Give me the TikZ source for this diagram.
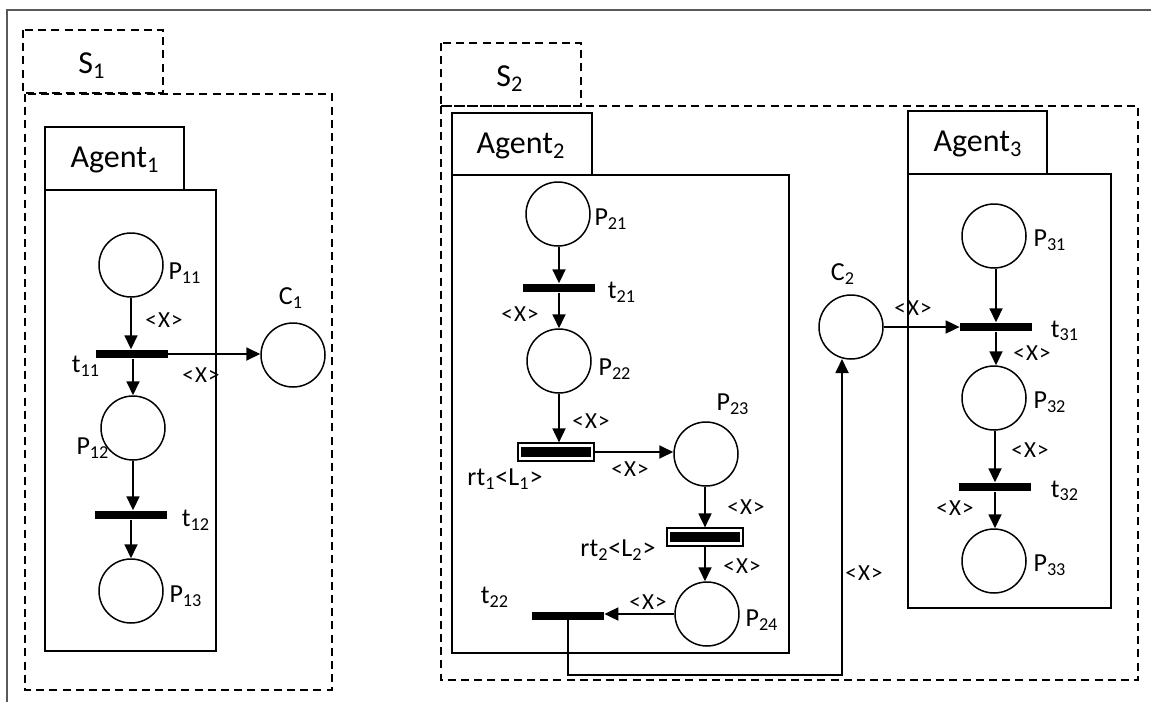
\documentclass[tikz,border=0pt]{standalone}
\usepackage{fontspec}
\setmainfont{Carlito}
\usetikzlibrary{arrows.meta}
\newcommand{\sbs}[1]{\textsubscript{#1}}
\newcommand{\xx}{<\kern0.6pt X\kern0.6pt>}
\tikzset{
  x=0.5pt, y=-0.5pt,
  place/.style={circle, draw, line width=0.75pt, minimum size=32pt, inner sep=0pt},
  bar/.style={rectangle, fill=black, minimum width=36pt, minimum height=4.3pt, inner sep=0pt},
  rtbar/.style={rectangle, draw, line width=0.6pt, minimum width=38pt, minimum height=9pt, inner sep=0pt,
    path picture={\fill[black] ([xshift=1.5pt,yshift=-2.2pt]path picture bounding box.north west) rectangle ([xshift=-1.5pt,yshift=2.2pt]path picture bounding box.south east);}},
  arr/.style={-{Triangle[length=7pt,width=6.5pt]}, line width=0.9pt},
  lbl/.style={font=\fontsize{13pt}{15pt}\selectfont, inner sep=0pt},
  xl/.style={font=\fontsize{11.5pt}{13pt}\selectfont, inner sep=0pt},
  big/.style={font=\fontsize{16pt}{18pt}\selectfont, inner sep=0pt},
  dbox/.style={draw, dash pattern=on 4pt off 2.6pt, line width=0.9pt},
  sbox/.style={draw, line width=0.9pt},
}
\begin{document}
\begin{tikzpicture}
\useasboundingbox (0,0) rectangle (1151,702);
\draw[gray!70!black, line width=0.6pt] (7,702) -- (7,10) -- (1151,10);

% ---- S1 ----
\draw[dbox] (23,30) rectangle (163,93);
\node[big] (S1) at (92,66) {S\sbs{1}};
\draw[dbox] (25,94) rectangle (332,690);
\draw[sbox] (45,127) rectangle (184,190);
\node[big] (A1) at (115,160) {Agent\sbs{1}};
\draw[sbox] (45,190) rectangle (216,651);

\node[place] (P11) at (131,265) {};
\node[bar] (t11) at (132,354) {};
\node[place] (P12) at (133,428) {};
\node[bar] (t12) at (131,515) {};
\node[place] (P13) at (131,591) {};
\node[place] (C1) at (293,355) {};

\node[lbl] (lP11) at (185,273) {P\sbs{11}};
\node[lbl] (lt11) at (86,366) {t\sbs{11}};
\node[lbl] (lC1) at (291,298) {C\sbs{1}};
\node[lbl] (lP12) at (93,448) {P\sbs{12}};
\node[lbl] (lt12) at (196,520) {t\sbs{12}};
\node[lbl] (lP13) at (186,596) {P\sbs{13}};

\draw[arr] (P11.south) -- (P11.south |- t11.north);
\draw[arr] (t11.south -| P12.north) -- (P12.north);
\draw[arr] (t11.east) -- (C1.west |- t11.east);
\draw[arr] (P12.south) -- (P12.south |- t12.north);
\draw[arr] (t12.south -| P13.north) -- (P13.north);
\node[xl] (x1) at (164,320) {\xx};
\node[xl] (x2) at (201,375) {\xx};

% ---- S2 ----
\draw[dbox] (441,43) rectangle (581,106);
\node[big] (S2) at (510,79) {S\sbs{2}};
\draw[dbox] (441,106) rectangle (1138,680);
\draw[sbox] (452,113) rectangle (592,175);
\node[big] (A2) at (521,146) {Agent\sbs{2}};
\draw[sbox] (452,175) rectangle (789,653);
\draw[sbox] (908,111) rectangle (1047,174);
\node[big] (A3) at (978,144) {Agent\sbs{3}};
\draw[sbox] (908,174) rectangle (1111,608);

\node[place] (P21) at (558,214) {};
\node[bar] (t21) at (559,288) {};
\node[place] (P22) at (559,361) {};
\node[rtbar] (rt1) at (556,452) {};
\node[place] (P23) at (706,454) {};
\node[rtbar] (rt2) at (705,537) {};
\node[place] (P24) at (707,614) {};
\node[bar] (t22) at (568,616) {};
\node[place] (C2) at (851,327) {};
\node[place] (P31) at (994,236) {};
\node[bar] (t31) at (996,327) {};
\node[place] (P32) at (994,398) {};
\node[bar] (t32) at (995,487) {};
\node[place] (P33) at (994,561) {};

\node[lbl] (lP21) at (611,219) {P\sbs{21}};
\node[lbl] (lt21) at (622,292) {t\sbs{21}};
\node[lbl] (lP22) at (615,369) {P\sbs{22}};
\node[lbl] (lP23) at (733,404) {P\sbs{23}};
\node[lbl] (lP24) at (762,620) {P\sbs{24}};
\node[lbl] (lt22) at (495,597) {t\sbs{22}};
\node[lbl] (lrt1) at (505,479) {rt\sbs{1}<L\sbs{1}>};
\node[lbl] (lrt2) at (618,550) {rt\sbs{2}<L\sbs{2}>};
\node[lbl] (lC2) at (843,274) {C\sbs{2}};
\node[lbl] (lP31) at (1050,240) {P\sbs{31}};
\node[lbl] (lt31) at (1065,331) {t\sbs{31}};
\node[lbl] (lP32) at (1050,402) {P\sbs{32}};
\node[lbl] (lt32) at (1065,491) {t\sbs{32}};
\node[lbl] (lP33) at (1050,565) {P\sbs{33}};

\draw[arr] (P21.south -| t21) -- (t21.north);
\draw[arr] (t21.south) -- (t21.south |- P22.north);
\draw[arr] (P22.south) -- (P22.south |- rt1.north);
\draw[arr] (rt1.east) -- (P23.west |- rt1.east);
\draw[arr] (P23.south -| rt2) -- (rt2.north);
\draw[arr] (rt2.south) -- (rt2.south |- P24.north);
\draw[arr] (P24.west) -- (t22.east |- P24.west);
\coordinate (turn) at (842,675);
\coordinate (c2in) at (842,359);
\draw[arr] (t22.center) |- (turn) -- (c2in);
\draw[arr] (C2.east |- t31) -- (t31.west);
\draw[arr] (P31.south -| t31) -- (t31.north);
\draw[arr] (t31.south) -- (t31.south |- P32.north);
\draw[arr] (P32.south -| t32) -- (t32.north);
\draw[arr] (t32.south) -- (t32.south |- P33.north);

\node[xl] (x3) at (520,314) {\xx};
\node[xl] (x4) at (591,421) {\xx};
\node[xl] (x5) at (630,469) {\xx};
\node[xl] (x6) at (746,507) {\xx};
\node[xl] (x7) at (742,566) {\xx};
\node[xl] (x8) at (648,602) {\xx};
\node[xl] (x9) at (864,573) {\xx};
\node[xl] (x10) at (913,308) {\xx};
\node[xl] (x11) at (1032,353) {\xx};
\node[xl] (x12) at (1030,450) {\xx};
\node[xl] (x13) at (955,508) {\xx};
\end{tikzpicture}
\end{document}
